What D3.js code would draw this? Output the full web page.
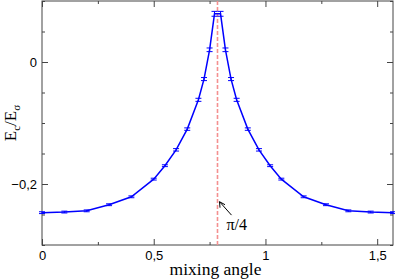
<!DOCTYPE html>
<meta charset="utf-8">
<style>
    body { margin: 0; background: #fff; }
    svg { display: block; font-family: "Liberation Serif", "DejaVu Serif", serif; }
    .frame { fill: none; stroke: #444; stroke-width: 1; }
    .tick line { stroke: #444; }
    .curve { fill: none; stroke: #0000ff; stroke-width: 1.5; }
    .err { stroke: #0000ff; stroke-width: 1; }
    .pi4 { stroke: #f49090; stroke-width: 1.6; stroke-dasharray: 4,2; }
</style>

<svg width="395" height="280"></svg>

<script src="https://d3js.org/d3.v7.min.js"></script>
<script>
// mixing angle and E_c/E_sigma
var angle = [0, 0.1, 0.2, 0.3, 0.4, 0.5, 0.55, 0.6, 0.65, 0.7, 0.725, 0.75, 0.772,
             0.799, 0.821, 0.846, 0.871, 0.921, 0.971, 1.021, 1.071, 1.171, 1.271, 1.371, 1.471, 1.571];
var ratio = [-0.247, -0.246, -0.244, -0.234, -0.221, -0.192, -0.170, -0.144, -0.110, -0.062, -0.028, 0.020, 0.079,
             0.079, 0.020, -0.028, -0.062, -0.110, -0.144, -0.170, -0.192, -0.221, -0.234, -0.244, -0.246, -0.247];
var errs  = [0.0015, 0.0015, 0.0015, 0.0015, 0.0015, 0.0015, 0.0015, 0.002, 0.002, 0.0025, 0.0025, 0.003, 0.004,
             0.004, 0.003, 0.0025, 0.0025, 0.002, 0.002, 0.0015, 0.0015, 0.0015, 0.0015, 0.0015, 0.0015, 0.0015];

var xMajor = [0, 0.5, 1, 1.5];
var xMinor = [0.25, 0.75, 1.25];
var yMajor = [-0.2, 0];
var yMinor = [-0.3, -0.25, -0.15, -0.1, -0.05, 0.05, 0.1];

var svg = d3.select("svg"),
    margin = {top: 1, right: 2, bottom: 35, left: 42},
    w = 395 - margin.left - margin.right,
    h = 280 - margin.top - margin.bottom;

var x = d3.scaleLinear().domain([0, Math.PI / 2]).range([0, w]);
var y = d3.scaleLinear().domain([-0.3, 0.1]).range([h, 0]);
var comma = function(d) { return d3.format("")(d).replace(".", ","); };

var g = svg.append("g").attr("transform", "translate(" + margin.left + "," + margin.top + ")");

// ticks on all four sides, pointing inward
function ticks(axis, vals, len, labels) {
    return axis.tickValues(vals).tickSizeInner(-len).tickSizeOuter(0)
        .tickFormat(labels ? comma : "");
}
function drawAxis(cls, tr, ax) {
    var a = g.append("g").attr("class", cls).attr("transform", tr).call(ax);
    a.select(".domain").remove();
    a.selectAll("text").attr("font-size", 13).attr("fill", "#000");
    return a;
}
drawAxis("xb", "translate(0," + h + ")", ticks(d3.axisBottom(x), xMajor, 6, true))
    .selectAll("text").attr("dy", "0.71em").attr("y", 6);
drawAxis("xb2", "translate(0," + h + ")", ticks(d3.axisBottom(x), xMinor, 3, false));
drawAxis("xt", "", ticks(d3.axisTop(x), xMajor, 6, false));
drawAxis("xt2", "", ticks(d3.axisTop(x), xMinor, 3, false));
drawAxis("yl", "", ticks(d3.axisLeft(y), yMajor, 6, true))
    .selectAll("text").attr("x", -5);
drawAxis("yl2", "", ticks(d3.axisLeft(y), yMinor, 3, false));
drawAxis("yr", "translate(" + w + ",0)", ticks(d3.axisRight(y), yMajor, 6, false));
drawAxis("yr2", "translate(" + w + ",0)", ticks(d3.axisRight(y), yMinor, 3, false));

g.append("rect").attr("class", "frame").attr("x", 0).attr("y", 0).attr("width", w).attr("height", h);

// pi/4 marker
g.append("line").attr("class", "pi4")
    .attr("x1", x(Math.PI / 4)).attr("x2", x(Math.PI / 4))
    .attr("y1", 0).attr("y2", h);

var pts = angle.map(function(a, i) { return {a: a, v: ratio[i], e: errs[i]}; });

g.append("path").datum(pts).attr("class", "curve")
    .attr("d", d3.line().x(function(d) { return x(d.a); }).y(function(d) { return y(d.v); }));

var eb = g.append("g").selectAll("g").data(pts).enter().append("g");
eb.append("line").attr("class", "err")
    .attr("x1", function(d) { return x(d.a); }).attr("x2", function(d) { return x(d.a); })
    .attr("y1", function(d) { return y(d.v - d.e); }).attr("y2", function(d) { return y(d.v + d.e); });
[-1, 1].forEach(function(s) {
    eb.append("line").attr("class", "err")
        .attr("x1", function(d) { return x(d.a) - 3; }).attr("x2", function(d) { return x(d.a) + 3; })
        .attr("y1", function(d) { return y(d.v + s * d.e); }).attr("y2", function(d) { return y(d.v + s * d.e); });
});

// annotation arrow + label
var tip = [x(Math.PI / 4) + 2, y(-0.229)], tail = [x(Math.PI / 4) + 14, y(-0.251)];
g.append("line").attr("x1", tail[0]).attr("y1", tail[1]).attr("x2", tip[0]).attr("y2", tip[1])
    .attr("stroke", "#000").attr("stroke-width", 1);
g.append("path")
    .attr("d", "M" + (tip[0] + 0.5) + "," + (tip[1] + 6) + "L" + tip[0] + "," + tip[1] + "L" + (tip[0] + 5.5) + "," + (tip[1] + 3))
    .attr("fill", "none").attr("stroke", "#000").attr("stroke-width", 1);
g.append("text").attr("x", x(Math.PI / 4) + 9).attr("y", y(-0.275))
    .attr("font-size", 16).text("π/4");

// axis titles
svg.append("text").attr("x", margin.left + w / 2 - 2).attr("y", 275)
    .attr("text-anchor", "middle").attr("font-size", 17.5).text("mixing angle");

var yl = svg.append("text").attr("transform", "translate(16," + (margin.top + h / 2) + ") rotate(-90)")
    .attr("text-anchor", "middle").attr("font-size", 17);
yl.append("tspan").text("E");
yl.append("tspan").attr("font-size", 11).attr("dy", 4).text("c");
yl.append("tspan").attr("dy", -4).text("/E");
yl.append("tspan").attr("font-size", 11).attr("dy", 4).text("σ");
</script>
